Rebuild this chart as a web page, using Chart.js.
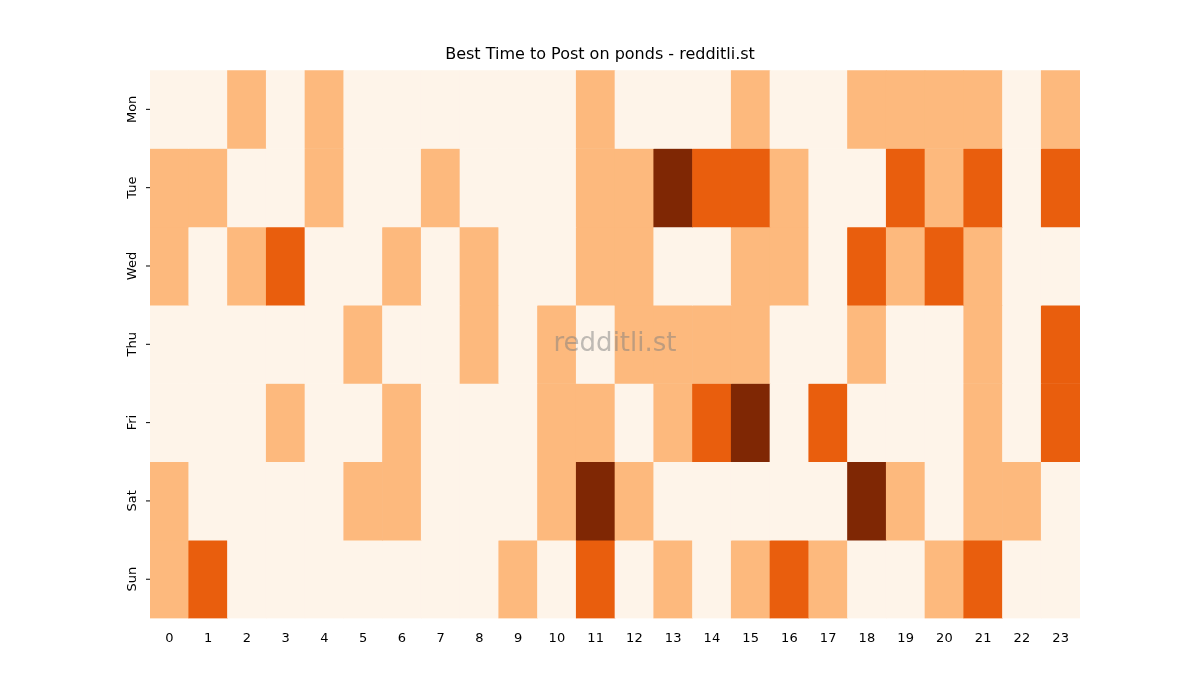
<!DOCTYPE html>
<html><head><script src="https://cdn.jsdelivr.net/npm/chart.js@4"></script>
<style>body{margin:0;background:#fff}#w{width:1200px;height:700px}</style></head>
<body><div id="w"><canvas id="c"></canvas></div>
<script>
const hours = ["0","1","2","3","4","5","6","7","8","9","10","11","12","13","14","15","16","17","18","19","20","21","22","23"];
const days = ["Mon","Tue","Wed","Thu","Fri","Sat","Sun"];
const mon = [0,0,1,0,1,0,0,0,0,0,0,1,0,0,0,1,0,0,1,1,1,1,0,1];
const tue = [1,1,0,0,1,0,0,1,0,0,0,1,1,3,2,2,1,0,0,2,1,2,0,2];
const wed = [1,0,1,2,0,0,1,0,1,0,0,1,1,0,0,1,1,0,2,1,2,1,0,0];
const thu = [0,0,0,0,0,1,0,0,1,0,1,0,1,1,1,1,0,0,1,0,0,1,0,2];
const fri = [0,0,0,1,0,0,1,0,0,0,1,1,0,1,2,3,0,2,0,0,0,1,0,2];
const sat = [1,0,0,0,0,1,1,0,0,0,1,3,1,0,0,0,0,0,3,1,0,1,1,0];
const sun = [1,2,0,0,0,0,0,0,0,1,0,2,0,1,0,1,2,1,0,0,1,2,0,0];
const rows = [mon,tue,wed,thu,fri,sat,sun];
const palette = ["#fef4e9","#fdb97d","#e95e0d","#7f2704"];
const datasets = rows.map((r,i)=>({label:days[i],data:r.map(()=>[i,i+1]),backgroundColor:r.map(v=>palette[v]),borderWidth:0,borderSkipped:false,barPercentage:1,categoryPercentage:1,grouped:false}));
const yLabels = {id:'yl',afterDraw(ch){const c=ch.ctx,s=ch.scales.y;c.save();c.font='13px "DejaVu Sans"';c.fillStyle='#000';c.textAlign='center';c.textBaseline='middle';
days.forEach((d,i)=>{const y=s.getPixelForValue(i+0.5);c.save();c.translate(ch.chartArea.left-17,y);c.rotate(-Math.PI/2);c.fillText(d,0,0);c.restore();
c.strokeStyle='#000';c.beginPath();c.moveTo(ch.chartArea.left-4,y);c.lineTo(ch.chartArea.left,y);c.stroke();});
c.font='26px "DejaVu Sans"';c.fillStyle='rgba(128,128,128,0.5)';c.fillText('redditli.st',(ch.chartArea.left+ch.chartArea.right)/2,(ch.chartArea.top+ch.chartArea.bottom)/2);c.restore();}};
new Chart(document.getElementById('c'),{type:'bar',data:{labels:hours,datasets},
options:{responsive:true,maintainAspectRatio:false,animation:false,
layout:{padding:{left:120,right:120,top:45,bottom:50}},
plugins:{legend:{display:false},tooltip:{enabled:false},title:{display:true,text:'Best Time to Post on ponds - redditli.st',color:'#000',font:{family:'DejaVu Sans',size:16,weight:'normal'},padding:{top:0,bottom:6}}},
scales:{x:{grid:{display:false,drawOnChartArea:false},border:{display:false},ticks:{color:'#000',font:{family:'DejaVu Sans',size:13},maxRotation:0,padding:4}},
y:{reverse:true,min:0,max:7,grid:{display:false},border:{display:false},ticks:{display:false},afterFit(s){s.width=30;}}}},
plugins:[yLabels]});
</script></body></html>
